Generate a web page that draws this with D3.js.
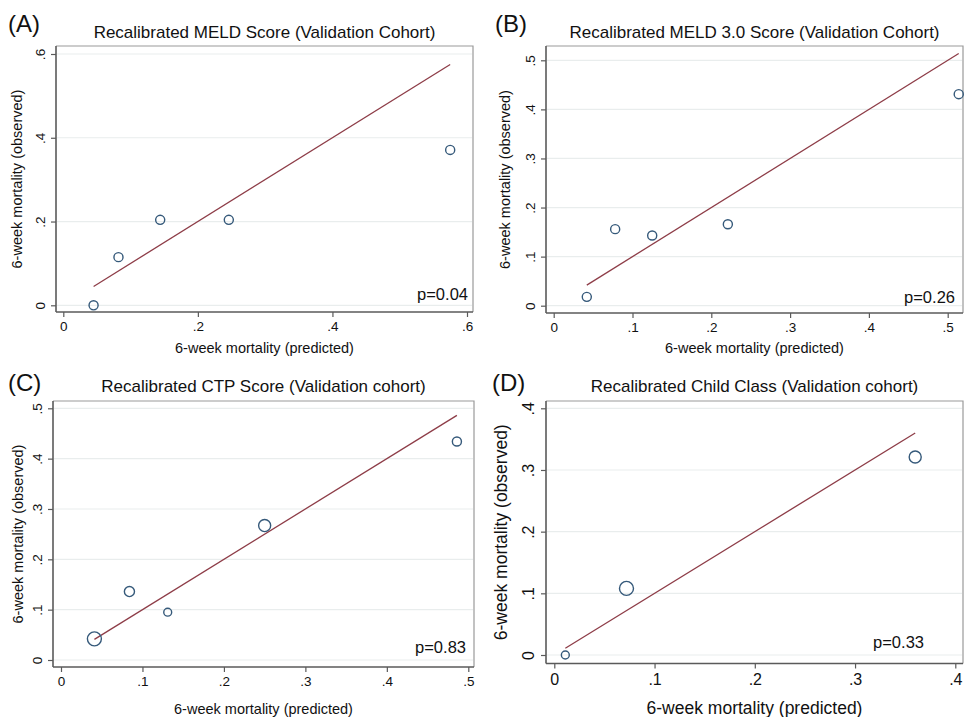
<!DOCTYPE html>
<html>
<head>
<meta charset="utf-8">
<script src="https://cdn.jsdelivr.net/npm/d3@7"></script>
<style>
  html, body { margin: 0; padding: 0; background: #fff; }
  svg { display: block; font-family: "Liberation Sans", Arial, Helvetica, sans-serif; }
</style>
</head>
<body>
<svg id="chart" width="964" height="717"></svg>
<script>
// calibration plots, four panels (Stata-like look)

// data
const predA = [0.045, 0.082, 0.144, 0.246, 0.575];
const obsA = [0.0, 0.115, 0.204, 0.204, 0.371];
const nA = [21, 21, 21, 21, 21];

const predB = [0.042, 0.078, 0.125, 0.221, 0.514];
const obsB = [0.018, 0.156, 0.143, 0.166, 0.431];
const nB = [21, 21, 21, 21, 21];

const predC = [0.041, 0.084, 0.131, 0.250, 0.486];
const obsC = [0.042, 0.136, 0.095, 0.267, 0.434];
const nC = [50, 26, 16, 37, 21];

const predD = [0.011, 0.072, 0.360];
const obsD = [0.0, 0.108, 0.321];
const nD = [16, 50, 37];

const ticksA = [0, 0.2, 0.4, 0.6];
const ticksB = [0, 0.1, 0.2, 0.3, 0.4, 0.5];
const ticksC = [0, 0.1, 0.2, 0.3, 0.4, 0.5];
const ticksD = [0, 0.1, 0.2, 0.3, 0.4];

const titles = [
  "Recalibrated MELD Score (Validation Cohort)",
  "Recalibrated MELD 3.0 Score (Validation Cohort)",
  "Recalibrated CTP Score (Validation cohort)",
  "Recalibrated Child Class (Validation cohort)"
];
const letters = ["(A)", "(B)", "(C)", "(D)"];
const pvals = ["p=0.04", "p=0.26", "p=0.83", "p=0.33"];

const xLabel = "6-week mortality (predicted)";
const yLabel = "6-week mortality (observed)";

// layout of each panel (pixels)
const layout = [
  { frame: [56, 46, 473, 312], x0: 63.3, x1: 467, y0: 305.3, y1: 54, max: 0.6,
    titleY: 38, letterX: 8, letterY: 32, xLabY: 353, yLabX: 22, pX: 468, pY: 300, big: false },
  { frame: [546, 46, 963, 313], x0: 553.7, x1: 947.7, y0: 305.7, y1: 60.3, max: 0.5,
    titleY: 38, letterX: 495, letterY: 32, xLabY: 353, yLabX: 510, pX: 955, pY: 303, big: false },
  { frame: [53, 401, 474, 667], x0: 61, x1: 468.3, y0: 660, y1: 408.3, max: 0.5,
    titleY: 392, letterX: 8, letterY: 391, xLabY: 714, yLabX: 23, pX: 466, pY: 653, big: false },
  { frame: [546, 401, 963, 663.5], x0: 554.3, x1: 955.3, y0: 655, y1: 408.3, max: 0.4,
    titleY: 392, letterX: 492, letterY: 391, xLabY: 714, yLabX: 507, pX: 924, pY: 648, big: true }
];

const panels = [
  { pred: predA, obs: obsA, n: nA, ticks: ticksA },
  { pred: predB, obs: obsB, n: nB, ticks: ticksB },
  { pred: predC, obs: obsC, n: nC, ticks: ticksC },
  { pred: predD, obs: obsD, n: nD, ticks: ticksD }
];

const colors = {
  marker: "#35597a",
  fit: "#8e3d48",
  grid: "#e9eded",
  axis: "#5a5a5a",
  frame: "#9a9a9a",
  text: "#111"
};

const svg = d3.select("#chart");
const fmt = (v) => (v === 0 ? "0" : d3.format(".1f")(v).replace(/^0/, ""));
const rScale = d3.scaleSqrt().domain([0, 50]).range([0, 7]);

panels.forEach((p, i) => {
  const L = layout[i];
  const [fl, ft, fr, fb] = L.frame;
  const g = svg.append("g");

  const x = d3.scaleLinear().domain([0, L.max]).range([L.x0, L.x1]);
  const y = d3.scaleLinear().domain([0, L.max]).range([L.y0, L.y1]);

  const tickSize = L.big ? 16 : 13.5;
  const labSize = L.big ? 17.5 : 14.5;

  // gridlines
  g.selectAll("line.grid")
    .data(p.ticks)
    .join("line")
    .attr("x1", fl + 1).attr("x2", fr - 1)
    .attr("y1", (d) => y(d)).attr("y2", (d) => y(d))
    .attr("stroke", colors.grid)
    .attr("stroke-width", 1.2);

  // frame (top/right)
  g.append("path")
    .attr("d", `M${fl},${ft}H${fr}V${fb}`)
    .attr("fill", "none")
    .attr("stroke", colors.frame)
    .attr("stroke-width", 1.2);

  // x axis
  const xAxis = g.append("g")
    .attr("transform", `translate(0,${fb})`)
    .call(d3.axisBottom(x).tickValues(p.ticks).tickFormat(fmt).tickSize(5).tickSizeOuter(0));
  xAxis.select(".domain").attr("d", `M${fl},0H${fr}`).attr("stroke", colors.axis).attr("stroke-width", 1.6);
  xAxis.selectAll(".tick line").attr("stroke", colors.axis).attr("stroke-width", 1.2);
  xAxis.selectAll(".tick text")
    .attr("y", L.big ? 10 : 9)
    .attr("fill", colors.text)
    .style("font-size", tickSize + "px")
    .style("font-family", null);

  // y axis with rotated labels
  const yAxis = g.append("g")
    .attr("transform", `translate(${fl},0)`)
    .call(d3.axisLeft(y).tickValues(p.ticks).tickFormat(fmt).tickSize(5).tickSizeOuter(0));
  yAxis.select(".domain").attr("d", `M0,${ft}V${fb}`).attr("stroke", colors.axis).attr("stroke-width", 1.6);
  yAxis.selectAll(".tick line").attr("stroke", colors.axis).attr("stroke-width", 1.2);
  yAxis.selectAll(".tick text")
    .attr("x", null).attr("dy", null)
    .attr("transform", `translate(${L.big ? -12 : -11},0) rotate(-90)`)
    .attr("text-anchor", "middle")
    .attr("fill", colors.text)
    .style("font-size", tickSize + "px")
    .style("font-family", null);
  g.selectAll(".domain").attr("fill", "none");

  // 45-degree reference line over the predicted range
  const lo = d3.min(p.pred), hi = d3.max(p.pred);
  g.append("line")
    .attr("x1", x(lo)).attr("y1", y(lo))
    .attr("x2", x(hi)).attr("y2", y(hi))
    .attr("stroke", colors.fit)
    .attr("stroke-width", 1.3);

  // markers
  g.selectAll("circle")
    .data(p.pred.map((d, k) => ({ px: d, ob: p.obs[k], n: p.n[k] })))
    .join("circle")
    .attr("cx", (d) => x(d.px))
    .attr("cy", (d) => y(d.ob))
    .attr("r", (d) => rScale(d.n))
    .attr("fill", "none")
    .attr("stroke", colors.marker)
    .attr("stroke-width", 1.4);

  // texts
  const cx = (fl + fr) / 2;
  g.append("text")
    .attr("x", cx).attr("y", L.titleY)
    .attr("text-anchor", "middle")
    .attr("fill", colors.text)
    .style("font-size", "17px")
    .text(titles[i]);

  g.append("text")
    .attr("x", L.letterX).attr("y", L.letterY)
    .attr("fill", colors.text)
    .style("font-size", "24px")
    .text(letters[i]);

  g.append("text")
    .attr("x", cx).attr("y", L.xLabY)
    .attr("text-anchor", "middle")
    .attr("fill", colors.text)
    .style("font-size", labSize + "px")
    .text(xLabel);

  g.append("text")
    .attr("transform", `translate(${L.yLabX},${(ft + fb) / 2}) rotate(-90)`)
    .attr("text-anchor", "middle")
    .attr("fill", colors.text)
    .style("font-size", labSize + "px")
    .text(yLabel);

  g.append("text")
    .attr("x", L.pX).attr("y", L.pY)
    .attr("text-anchor", "end")
    .attr("fill", colors.text)
    .style("font-size", "16.5px")
    .text(pvals[i]);
});
</script>
</body>
</html>
